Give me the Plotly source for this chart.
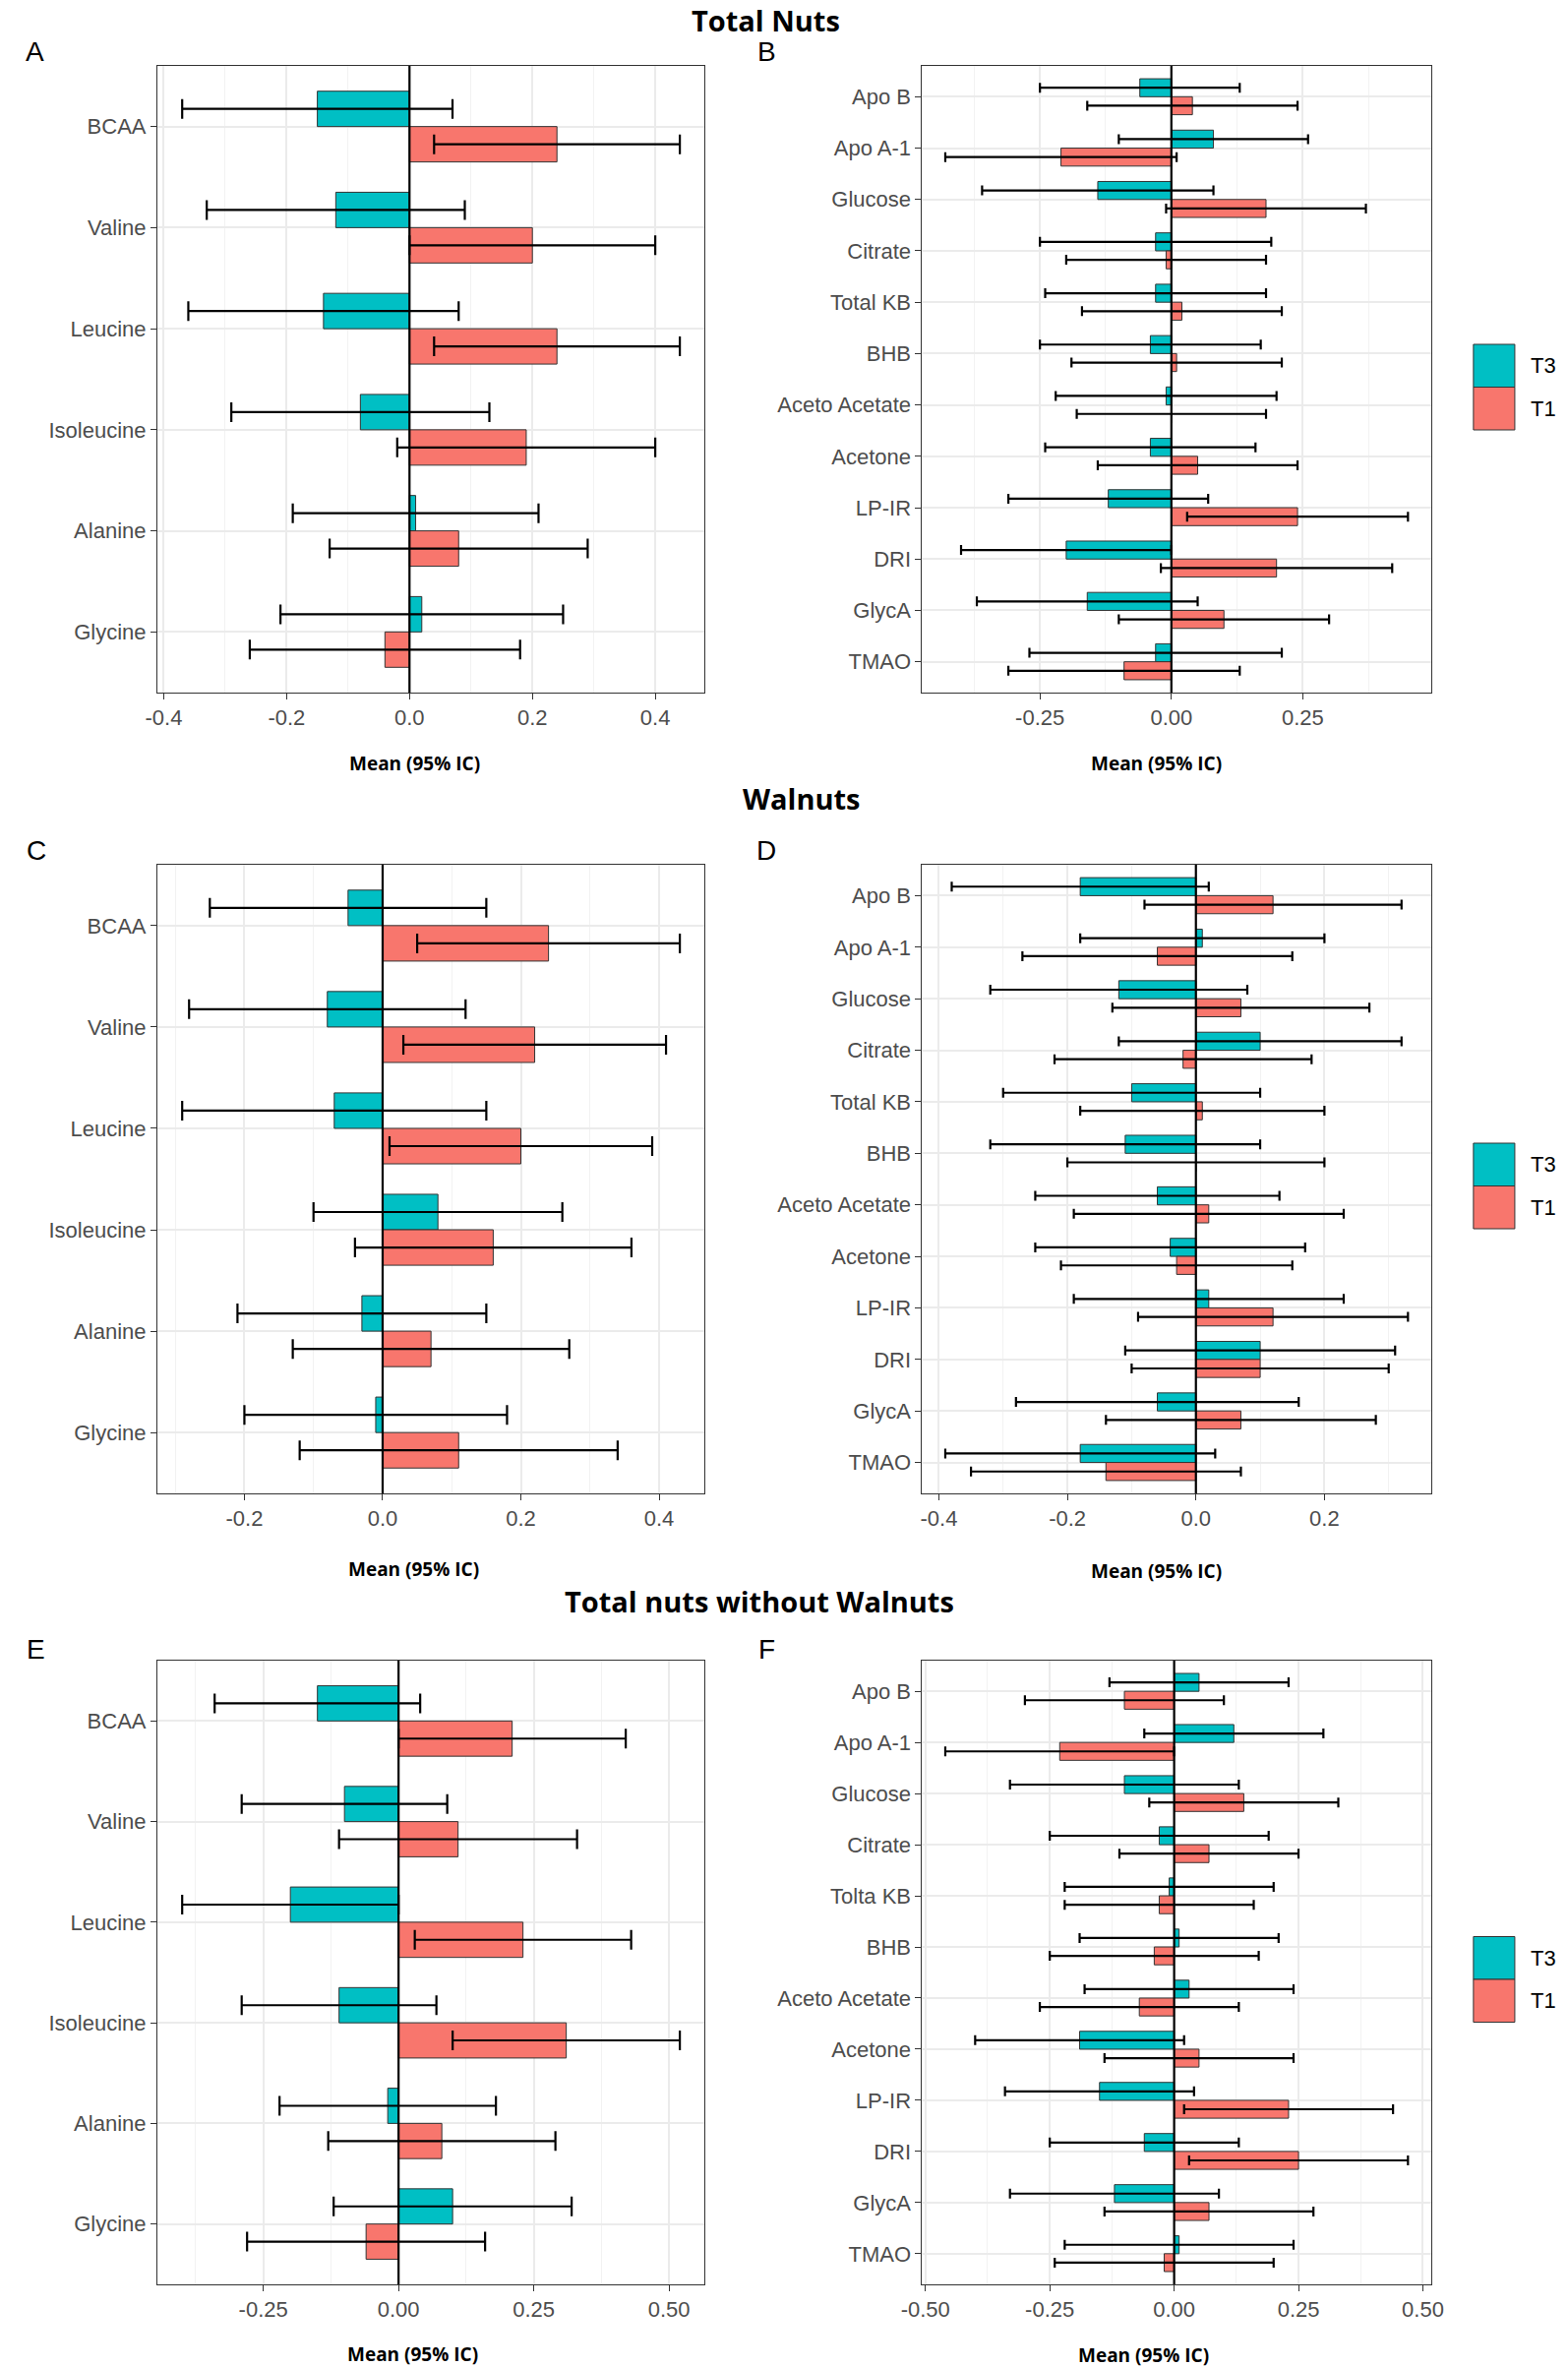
import plotly.graph_objects as go

T3_COLOR = '#00BFC4'
T1_COLOR = '#F8766D'
TICK_FONT = dict(family='Liberation Sans, Arial, sans-serif', size=22, color='#4D4D4D')
TITLE_FAMILY = 'Open Sans, sans-serif'

W, H = 1594, 2406

AMINO = ['BCAA', 'Valine', 'Leucine', 'Isoleucine', 'Alanine', 'Glycine']
MARKERS = ['Apo B', 'Apo A-1', 'Glucose', 'Citrate', 'Total KB', 'BHB',
           'Aceto Acetate', 'Acetone', 'LP-IR', 'DRI', 'GlycA', 'TMAO']
MARKERS_F = ['Apo B', 'Apo A-1', 'Glucose', 'Citrate', 'Tolta KB', 'BHB',
             'Aceto Acetate', 'Acetone', 'LP-IR', 'DRI', 'GlycA', 'TMAO']

# A - Total Nuts, amino acids
a_t3_mean = [-0.15, -0.12, -0.14, -0.08, 0.01, 0.02]
a_t3_low  = [-0.37, -0.33, -0.36, -0.29, -0.19, -0.21]
a_t3_high = [0.07, 0.09, 0.08, 0.13, 0.21, 0.25]
a_t1_mean = [0.24, 0.20, 0.24, 0.19, 0.08, -0.04]
a_t1_low  = [0.04, 0.00, 0.04, -0.02, -0.13, -0.26]
a_t1_high = [0.44, 0.40, 0.44, 0.40, 0.29, 0.18]

# B - Total Nuts, other markers
b_t3_mean = [-0.06, 0.08, -0.14, -0.03, -0.03, -0.04, -0.01, -0.04, -0.12, -0.20, -0.16, -0.03]
b_t3_low  = [-0.25, -0.10, -0.36, -0.25, -0.24, -0.25, -0.22, -0.24, -0.31, -0.40, -0.37, -0.27]
b_t3_high = [0.13, 0.26, 0.08, 0.19, 0.18, 0.17, 0.20, 0.16, 0.07, 0.00, 0.05, 0.21]
b_t1_mean = [0.04, -0.21, 0.18, -0.01, 0.02, 0.01, 0.00, 0.05, 0.24, 0.20, 0.10, -0.09]
b_t1_low  = [-0.16, -0.43, -0.01, -0.20, -0.17, -0.19, -0.18, -0.14, 0.03, -0.02, -0.10, -0.31]
b_t1_high = [0.24, 0.01, 0.37, 0.18, 0.21, 0.21, 0.18, 0.24, 0.45, 0.42, 0.30, 0.13]

# C - Walnuts, amino acids
c_t3_mean = [-0.05, -0.08, -0.07, 0.08, -0.03, -0.01]
c_t3_low  = [-0.25, -0.28, -0.29, -0.10, -0.21, -0.20]
c_t3_high = [0.15, 0.12, 0.15, 0.26, 0.15, 0.18]
c_t1_mean = [0.24, 0.22, 0.20, 0.16, 0.07, 0.11]
c_t1_low  = [0.05, 0.03, 0.01, -0.04, -0.13, -0.12]
c_t1_high = [0.43, 0.41, 0.39, 0.36, 0.27, 0.34]

# D - Walnuts, other markers
d_t3_mean = [-0.18, 0.01, -0.12, 0.10, -0.10, -0.11, -0.06, -0.04, 0.02, 0.10, -0.06, -0.18]
d_t3_low  = [-0.38, -0.18, -0.32, -0.12, -0.30, -0.32, -0.25, -0.25, -0.19, -0.11, -0.28, -0.39]
d_t3_high = [0.02, 0.20, 0.08, 0.32, 0.10, 0.10, 0.13, 0.17, 0.23, 0.31, 0.16, 0.03]
d_t1_mean = [0.12, -0.06, 0.07, -0.02, 0.01, 0.00, 0.02, -0.03, 0.12, 0.10, 0.07, -0.14]
d_t1_low  = [-0.08, -0.27, -0.13, -0.22, -0.18, -0.20, -0.19, -0.21, -0.09, -0.10, -0.14, -0.35]
d_t1_high = [0.32, 0.15, 0.27, 0.18, 0.20, 0.20, 0.23, 0.15, 0.33, 0.30, 0.28, 0.07]

# E - Total nuts without walnuts, amino acids
e_t3_mean = [-0.15, -0.10, -0.20, -0.11, -0.02, 0.10]
e_t3_low  = [-0.34, -0.29, -0.40, -0.29, -0.22, -0.12]
e_t3_high = [0.04, 0.09, 0.00, 0.07, 0.18, 0.32]
e_t1_mean = [0.21, 0.11, 0.23, 0.31, 0.08, -0.06]
e_t1_low  = [0.00, -0.11, 0.03, 0.10, -0.13, -0.28]
e_t1_high = [0.42, 0.33, 0.43, 0.52, 0.29, 0.16]

# F - Total nuts without walnuts, other markers
f_t3_mean = [0.05, 0.12, -0.10, -0.03, -0.01, 0.01, 0.03, -0.19, -0.15, -0.06, -0.12, 0.01]
f_t3_low  = [-0.13, -0.06, -0.33, -0.25, -0.22, -0.19, -0.18, -0.40, -0.34, -0.25, -0.33, -0.22]
f_t3_high = [0.23, 0.30, 0.13, 0.19, 0.20, 0.21, 0.24, 0.02, 0.04, 0.13, 0.09, 0.24]
f_t1_mean = [-0.10, -0.23, 0.14, 0.07, -0.03, -0.04, -0.07, 0.05, 0.23, 0.25, 0.07, -0.02]
f_t1_low  = [-0.30, -0.46, -0.05, -0.11, -0.22, -0.25, -0.27, -0.14, 0.02, 0.03, -0.14, -0.24]
f_t1_high = [0.10, 0.00, 0.33, 0.25, 0.16, 0.17, 0.13, 0.24, 0.44, 0.47, 0.28, 0.20]

ticks_02 = [-0.4, -0.2, 0.0, 0.2, 0.4]
ticktext_02 = ['-0.4', '-0.2', '0.0', '0.2', '0.4']
ticks_025 = [-0.5, -0.25, 0.0, 0.25, 0.5]
ticktext_025 = ['-0.50', '-0.25', '0.00', '0.25', '0.50']

PANEL_TITLES = ['Total Nuts', 'Walnuts', 'Total nuts without Walnuts']
LETTERS = ['A', 'B', 'C', 'D', 'E', 'F']

# pixel layout of the page
COLS = [(141, 710), (936, 1465)]
ROWS = [(67, 704), (879, 1518), (1688, 2322)]


def px(x):
    return x / W


def py(y):
    return 1 - y / H


panels = [
    (AMINO, a_t3_mean, a_t3_low, a_t3_high, a_t1_mean, a_t1_low, a_t1_high, ticks_02, ticktext_02, 0.1),
    (MARKERS, b_t3_mean, b_t3_low, b_t3_high, b_t1_mean, b_t1_low, b_t1_high, ticks_025, ticktext_025, 0.125),
    (AMINO, c_t3_mean, c_t3_low, c_t3_high, c_t1_mean, c_t1_low, c_t1_high, ticks_02, ticktext_02, 0.1),
    (MARKERS, d_t3_mean, d_t3_low, d_t3_high, d_t1_mean, d_t1_low, d_t1_high, ticks_02, ticktext_02, 0.1),
    (AMINO, e_t3_mean, e_t3_low, e_t3_high, e_t1_mean, e_t1_low, e_t1_high, ticks_025, ticktext_025, 0.125),
    (MARKERS_F, f_t3_mean, f_t3_low, f_t3_high, f_t1_mean, f_t1_low, f_t1_high, ticks_025, ticktext_025, 0.125),
]

fig = go.Figure()
layout = {}
shapes = []
annotations = []

for i, (cats, m3, l3, h3, m1, l1, h1, tv, tt, minor_dt) in enumerate(panels):
    n = i + 1
    sfx = '' if n == 1 else str(n)
    row, col = divmod(i, 2)
    cap = 10 if col == 0 else 5
    for name, m, lo, hi, color in [('T3', m3, l3, h3, T3_COLOR), ('T1', m1, l1, h1, T1_COLOR)]:
        fig.add_trace(go.Bar(
            name=name, y=cats, x=m, orientation='h',
            xaxis='x' + sfx, yaxis='y' + sfx,
            marker=dict(color=color, line=dict(color='#333333', width=1)),
            error_x=dict(type='data', symmetric=False,
                         array=[h - v for h, v in zip(hi, m)],
                         arrayminus=[v - l for v, l in zip(m, lo)],
                         color='black', thickness=2.2, width=cap),
            showlegend=False,
            hovertemplate='<b>%{y}</b> ' + name + '<br>%{x:.2f}<extra></extra>',
        ))
    lo_all = min(l3 + l1)
    hi_all = max(h3 + h1)
    pad = 0.05 * (hi_all - lo_all)
    x0, x1 = COLS[col]
    y0, y1 = ROWS[row]
    layout['xaxis' + sfx] = dict(
        domain=[px(x0), px(x1)], anchor='y' + sfx,
        range=[lo_all - pad, hi_all + pad],
        tickmode='array', tickvals=tv, ticktext=tt,
        tickfont=TICK_FONT, ticks='outside', ticklen=6, tickcolor='#333333',
        showgrid=True, gridcolor='#EBEBEB', gridwidth=1.6,
        minor=dict(tickmode='linear', tick0=0, dtick=minor_dt, showgrid=True,
                   gridcolor='#F2F2F2', gridwidth=1, ticks=''),
        zeroline=False, showline=True, mirror=True, linecolor='#333333', linewidth=1,
        fixedrange=True,
    )
    layout['yaxis' + sfx] = dict(
        domain=[py(y1), py(y0)], anchor='x' + sfx,
        type='category', categoryorder='array', categoryarray=cats,
        range=[len(cats) - 0.4, -0.6],
        tickfont=TICK_FONT, ticks='outside', ticklen=6, tickcolor='#333333',
        showgrid=True, gridcolor='#EBEBEB', gridwidth=1.6,
        zeroline=False, showline=True, mirror=True, linecolor='#333333', linewidth=1,
        fixedrange=True,
    )
    shapes.append(dict(type='line', xref='x' + sfx, yref='y' + sfx + ' domain',
                       x0=0, x1=0, y0=0, y1=1, layer='above',
                       line=dict(color='black', width=2.2)))

# panel letters
letter_pos = [(14, 53), (774, 53), (15, 864), (774, 864), (15, 1676), (774, 1676)]
for letter, (lx, ly) in zip(LETTERS, letter_pos):
    annotations.append(dict(text=letter, x=px(lx), y=py(ly), xref='paper', yref='paper',
                            showarrow=False, xanchor='center', yanchor='middle',
                            font=dict(family='Liberation Sans, Arial, sans-serif', size=28, color='black')))

# row titles
title_pos = [(773, 21), (811, 811), (767, 1627)]
for text, (tx, ty) in zip(PANEL_TITLES, title_pos):
    annotations.append(dict(text=text, x=px(tx), y=py(ty), xref='paper', yref='paper',
                            showarrow=False, xanchor='center', yanchor='middle',
                            font=dict(family=TITLE_FAMILY, size=29, color='black', weight='bold')))

# x-axis titles
xt_pos = [(408, 776), (1179, 776), (407, 1595), (1179, 1597), (406, 2393), (1166, 2394)]
for tx, ty in xt_pos:
    annotations.append(dict(text='Mean (95% IC)', x=px(tx), y=py(ty), xref='paper', yref='paper',
                            showarrow=False, xanchor='center', yanchor='middle',
                            font=dict(family=TITLE_FAMILY, size=19, color='black', weight='bold')))

# legends (one per row, right of the right-hand panel)
legend_centers = [393.5, 1205.5, 2012]
for cy in legend_centers:
    for k, (name, color) in enumerate([('T3', T3_COLOR), ('T1', T1_COLOR)]):
        top = cy - 43.5 + k * 43.5
        shapes.append(dict(type='rect', xref='paper', yref='paper',
                           x0=px(1509), x1=px(1552), y0=py(top + 43.5), y1=py(top),
                           fillcolor=color, line=dict(color='#333333', width=1)))
        annotations.append(dict(text=name, x=px(1566), y=py(top + 21.75), xref='paper', yref='paper',
                                showarrow=False, xanchor='left', yanchor='middle',
                                font=dict(family='Liberation Sans, Arial, sans-serif', size=22, color='black')))

fig.update_layout(
    width=W, height=H, autosize=False,
    margin=dict(l=0, r=0, t=0, b=0),
    paper_bgcolor='white', plot_bgcolor='white',
    barmode='group', bargap=0.3, bargroupgap=0,
    showlegend=False,
    shapes=shapes, annotations=annotations,
    **layout,
)

page_fix = (
    "document.documentElement.style.margin='0';"
    "document.documentElement.style.padding='0';"
    "document.documentElement.style.overflow='hidden';"
    "document.body.style.margin='0';"
    "document.body.style.padding='0';"
    "document.body.style.overflow='hidden';"
)
fig.write_html('out.html', config={'displayModeBar': False}, post_script=page_fix)
